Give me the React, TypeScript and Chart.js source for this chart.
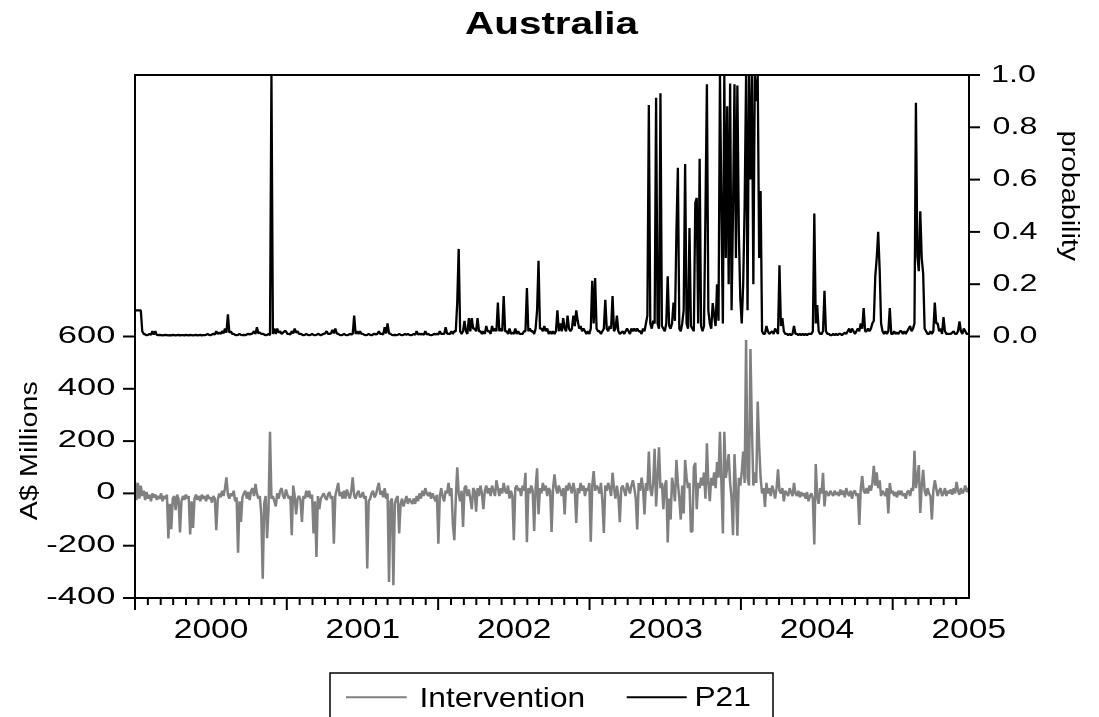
import React, { useEffect, useRef } from "react";
import { Chart, registerables } from "chart.js";
Chart.register(...registerables);

const TITLE = "Australia";
const LEFT_TITLE = "A$ Millions";
const RIGHT_TITLE = "probability";
const SERIES_NAMES = ["Intervention", "P21"];
const START_DATE = [1999, 6, 1]; // 1 Jul 1999
const END_DATE = [2005, 0, 1]; // 1 Jan 2005
const STEP_DAYS = 3.5; // twice-weekly readings

// Intervention, A$ millions (twice-weekly readings)
const INTERVENTION = [
  44, -26, 40, -20, 30, -10, 10, -25, 5, -20, -5, -30, 0, -15, -5, -25, -10, -20, 0, -30, -10, -20, -5, -172,
  -40, -137, -20, -10, -64, -5, -20, -149, -30, -10, -25, -5, -20, -10, -157, -30, -132, -20, -5, -25, -10, -30, -5, -20,
  -10, -30, -5, -20, -15, -35, -10, -20, -141, -25, 0, -15, 10, -10, 20, 61, -5, -20, 0, -10, 10, -30, -15, -227,
  -30, -109, -15, 0, 10, -20, 5, -25, 10, 20, -10, 36, 0, -20, -10, -80, -326, -40, -10, -171, -60, 236, -20, -10,
  -30, -50, 0, -20, 10, 20, -10, -20, 15, -5, -20, -10, -160, 30, -10, -80, -20, -10, -25, -109, -10, -20, 10, -15,
  10, -20, -5, -153, -30, -243, -10, -60, -20, -10, 0, -15, -25, -5, 5, -20, -10, -192, -10, 15, 40, -10, 5, -20,
  10, -20, 15, -5, -20, 10, 61, -10, -20, 0, 10, -15, -10, 5, -20, -10, -287, -30, -20, 0, 10, -15, -5, 20,
  40, -5, 10, -15, 20, -20, 0, -339, -30, -20, -351, -40, -20, -10, -153, -40, -20, -50, -30, -10, -40, -20, -30, -40,
  -20, -40, -10, -30, 0, -20, 10, -10, 20, 0, -10, 5, -20, 0, -15, -30, -5, -192, -10, 20, -15, -30, 10, 0,
  40, -10, 20, -120, -179, -20, 100, 0, -30, 10, -128, 20, 30, -10, 15, -20, -60, 20, 10, -70, 20, -10, 30, 0,
  -60, 10, 30, 0, 20, -10, 30, 10, -10, 50, 20, -10, 20, 0, 40, 10, 0, 30, -20, 10, -10, -179, 20, 30,
  10, 20, -10, 30, 10, 79, -187, 20, 0, 30, 10, -144, 20, 96, -80, 20, 0, 40, 10, 30, -10, 20, 10, -147,
  20, 73, 20, 0, 30, 10, -10, 20, -80, 30, 10, 40, 20, 0, 40, 10, -113, 20, 0, 40, 10, 30, -10, 20,
  10, 40, -185, 30, 85, 10, 30, 20, 0, 40, -30, -151, 30, 10, 40, 20, -10, 79, 20, -20, 30, -10, -110, 20,
  30, 10, -10, 40, 20, 0, 30, 50, 20, -20, -138, 40, 10, 60, 20, -80, 40, 10, 160, 20, -10, 40, 171, -50,
  60, 176, 20, 40, -60, 30, 50, -188, -20, -100, 60, 20, -30, 128, 40, -20, -100, 30, -77, 128, 60, 20, 40, -147,
  -144, 100, 117, -60, 40, 20, 60, 30, 80, -20, 192, 40, -30, 60, 30, 80, 20, 120, 60, 236, 40, -153, 236, 60,
  100, 150, 40, -20, -160, 150, 20, -162, 60, 30, 80, 160, 40, 587, 60, 30, 552, 255, 30, 80, 40, 351, 183, 60,
  0, 20, -52, 40, 0, 20, -10, 30, 10, -20, 20, 92, 10, 0, 20, -30, 10, 0, -10, 20, 5, -10, 40, 0,
  -10, 10, -15, 5, -10, 0, -20, 5, -30, -10, 0, -20, -195, 112, -10, -40, 20, 0, 79, -50, 10, 0, -10, 10,
  0, -10, 10, -5, 5, -10, 15, -5, 10, -15, 20, 0, -10, 10, -20, 5, 10, -10, 0, -121, 20, 66, 10, 0,
  20, 0, 30, 10, 40, 105, 30, 80, 20, 50, -10, 10, 0, -10, 20, -77, 40, 0, 10, -10, 5, -15, 10, -5,
  10, -10, 0, -20, 5, 10, -10, 20, 10, 163, 20, 60, 108, -75, 30, 90, 10, -10, 20, 0, -10, -100, 10, 50,
  20, -10, 10, 20, -10, 0, 20, -10, 10, 0, 15, -5, 20, 0, 44, 10, -5, 20, 0, 10, 30, 5, 20, 10,
];

// P21, probability (twice-weekly readings)
const P21 = [
  0.1, 0.1, 0.1, 0.1, 0.1, 0.02, 0.01, 0.008, 0.005, 0.006, 0.01, 0.006, 0.02, 0.008, 0.02, 0.006, 0.005, 0.006, 0.005, 0.004, 0.005, 0.006, 0.005, 0.004,
  0.005, 0.004, 0.006, 0.005, 0.004, 0.005, 0.006, 0.004, 0.005, 0.005, 0.004, 0.006, 0.005, 0.004, 0.006, 0.005, 0.004, 0.005, 0.006, 0.004, 0.005, 0.006, 0.004, 0.005,
  0.005, 0.006, 0.01, 0.006, 0.005, 0.008, 0.01, 0.008, 0.02, 0.01, 0.015, 0.01, 0.02, 0.012, 0.03, 0.015, 0.085, 0.015, 0.02, 0.01, 0.01, 0.006, 0.005, 0.006,
  0.01, 0.006, 0.005, 0.006, 0.005, 0.008, 0.01, 0.008, 0.01, 0.012, 0.02, 0.01, 0.035, 0.012, 0.015, 0.01, 0.01, 0.008, 0.005, 0.006, 0.01, 0.005, 1.0, 0.01,
  0.03, 0.01, 0.03, 0.015, 0.02, 0.01, 0.015, 0.02, 0.02, 0.01, 0.01, 0.008, 0.02, 0.012, 0.03, 0.015, 0.02, 0.01, 0.01, 0.008, 0.005, 0.006, 0.01, 0.006,
  0.005, 0.006, 0.01, 0.006, 0.005, 0.006, 0.01, 0.008, 0.005, 0.008, 0.01, 0.012, 0.02, 0.01, 0.01, 0.012, 0.025, 0.012, 0.03, 0.012, 0.01, 0.006, 0.005, 0.006,
  0.01, 0.006, 0.005, 0.006, 0.01, 0.008, 0.01, 0.08, 0.01, 0.02, 0.01, 0.02, 0.01, 0.01, 0.006, 0.005, 0.006, 0.01, 0.006, 0.005, 0.008, 0.01, 0.008, 0.01,
  0.02, 0.01, 0.01, 0.008, 0.035, 0.012, 0.05, 0.012, 0.01, 0.006, 0.005, 0.006, 0.005, 0.006, 0.01, 0.006, 0.005, 0.006, 0.01, 0.006, 0.01, 0.006, 0.005, 0.006,
  0.01, 0.006, 0.02, 0.008, 0.01, 0.008, 0.01, 0.006, 0.02, 0.008, 0.01, 0.006, 0.005, 0.006, 0.01, 0.008, 0.01, 0.008, 0.02, 0.01, 0.01, 0.01, 0.035, 0.012,
  0.01, 0.01, 0.02, 0.01, 0.02, 0.02, 0.13, 0.335, 0.02, 0.01, 0.02, 0.06, 0.02, 0.01, 0.07, 0.02, 0.07, 0.03, 0.03, 0.02, 0.07, 0.02, 0.02, 0.01,
  0.02, 0.01, 0.04, 0.02, 0.02, 0.01, 0.04, 0.02, 0.03, 0.02, 0.13, 0.02, 0.03, 0.02, 0.155, 0.02, 0.02, 0.01, 0.03, 0.01, 0.015, 0.01, 0.03, 0.01,
  0.02, 0.01, 0.01, 0.01, 0.02, 0.02, 0.185, 0.02, 0.03, 0.02, 0.02, 0.01, 0.03, 0.1, 0.29, 0.03, 0.03, 0.02, 0.04, 0.02, 0.03, 0.01, 0.02, 0.01,
  0.02, 0.01, 0.02, 0.1, 0.02, 0.05, 0.02, 0.07, 0.03, 0.02, 0.08, 0.03, 0.02, 0.03, 0.08, 0.04, 0.1, 0.06, 0.03, 0.04, 0.02, 0.03, 0.02, 0.01,
  0.02, 0.01, 0.03, 0.213, 0.05, 0.224, 0.03, 0.02, 0.02, 0.01, 0.02, 0.03, 0.14, 0.03, 0.02, 0.04, 0.03, 0.155, 0.02, 0.03, 0.08, 0.02, 0.01, 0.015,
  0.02, 0.01, 0.02, 0.03, 0.02, 0.01, 0.03, 0.02, 0.03, 0.02, 0.03, 0.02, 0.02, 0.01, 0.03, 0.02, 0.05, 0.08, 0.885, 0.05, 0.03, 0.06, 0.05, 0.913,
  0.05, 0.03, 0.93, 0.04, 0.03, 0.02, 0.05, 0.23, 0.04, 0.03, 0.05, 0.13, 0.06, 0.4, 0.645, 0.03, 0.02, 0.05, 0.1, 0.66, 0.05, 0.03, 0.415, 0.04,
  0.03, 0.02, 0.51, 0.53, 0.05, 0.68, 0.04, 0.02, 0.04, 0.47, 0.965, 0.1, 0.05, 0.03, 0.128, 0.08, 0.04, 0.2, 0.06, 1.0, 0.5, 0.05, 1.0, 0.3,
  0.88, 0.2, 0.967, 0.1, 0.48, 0.965, 0.3, 0.96, 0.4, 0.147, 0.05, 0.2, 0.5, 1.0, 0.1, 1.0, 0.6, 1.0, 0.2, 1.0, 0.9, 1.0, 0.3, 0.556,
  0.02, 0.01, 0.01, 0.04, 0.02, 0.01, 0.015, 0.02, 0.01, 0.03, 0.02, 0.01, 0.272, 0.04, 0.07, 0.02, 0.01, 0.01, 0.005, 0.01, 0.005, 0.01, 0.04, 0.01,
  0.01, 0.005, 0.01, 0.005, 0.01, 0.005, 0.01, 0.005, 0.01, 0.01, 0.01, 0.02, 0.47, 0.05, 0.12, 0.02, 0.01, 0.01, 0.02, 0.175, 0.02, 0.01, 0.01, 0.005,
  0.005, 0.01, 0.005, 0.01, 0.005, 0.01, 0.01, 0.005, 0.01, 0.015, 0.01, 0.02, 0.03, 0.015, 0.03, 0.02, 0.01, 0.02, 0.03, 0.02, 0.05, 0.03, 0.109, 0.02,
  0.02, 0.03, 0.02, 0.03, 0.05, 0.06, 0.23, 0.3, 0.4, 0.26, 0.05, 0.02, 0.01, 0.02, 0.01, 0.02, 0.109, 0.01, 0.01, 0.02, 0.01, 0.015, 0.01, 0.02,
  0.02, 0.01, 0.02, 0.01, 0.02, 0.03, 0.04, 0.02, 0.03, 0.05, 0.894, 0.306, 0.25, 0.479, 0.3, 0.24, 0.03, 0.02, 0.01, 0.01, 0.02, 0.01, 0.02, 0.13,
  0.05, 0.05, 0.02, 0.03, 0.01, 0.074, 0.02, 0.01, 0.01, 0.01, 0.01, 0.015, 0.02, 0.01, 0.01, 0.02, 0.058, 0.02, 0.01, 0.03, 0.02, 0.01, 0.01, 0.01,
];

const LEFT_TICKS = [600, 400, 200, 0, -200, -400];
const RIGHT_TICKS = [0, 0.2, 0.4, 0.6, 0.8, 1.0];
const YEAR_LABELS = [2000, 2001, 2002, 2003, 2004, 2005];
const LEFT_RANGE = [-400, 1600];
const RIGHT_RANGE = [-1, 1];

const FONT = "'Liberation Sans', Arial, Helvetica, sans-serif";
const GRAY = "#808080";

const DAY_MS = 86400000;
const startMs = Date.UTC(START_DATE[0], START_DATE[1], START_DATE[2]);
const dayOf = (y: number, m: number, d: number) => (Date.UTC(y, m, d) - startMs) / DAY_MS;
const END_DAY = dayOf(END_DATE[0], END_DATE[1], END_DATE[2]);

function inkWidth(ctx: CanvasRenderingContext2D, text: string, font: string) {
  ctx.save();
  ctx.font = font;
  const m = ctx.measureText(text);
  ctx.restore();
  return m.actualBoundingBoxRight + m.actualBoundingBoxLeft;
}

function drawInk(
  ctx: CanvasRenderingContext2D,
  text: string,
  font: string,
  x: number,
  y: number,
  sx: number,
  align: "left" | "center" | "right" = "center",
  rot = 0
) {
  ctx.save();
  ctx.font = font;
  ctx.textAlign = "left";
  ctx.textBaseline = "alphabetic";
  ctx.fillStyle = "#000";
  const m = ctx.measureText(text);
  const l = -m.actualBoundingBoxLeft;
  const r = m.actualBoundingBoxRight;
  const t = -m.actualBoundingBoxAscent;
  const b = m.actualBoundingBoxDescent;
  const ax = align === "left" ? l : align === "right" ? r : (l + r) / 2;
  ctx.translate(x, y);
  ctx.rotate(rot);
  ctx.scale(sx, 1);
  ctx.fillText(text, -ax, -(t + b) / 2);
  ctx.restore();
}

const decorPlugin = {
  id: "decor",
  afterDraw(chart: any) {
    const ctx: CanvasRenderingContext2D = chart.ctx;
    const { left, right, top, bottom } = chart.chartArea;
    const xs = chart.scales.x;
    const yl = chart.scales.y;
    const yr = chart.scales.y2;

    ctx.save();
    ctx.strokeStyle = "#000";
    ctx.lineWidth = 2;
    ctx.strokeRect(left, top, right - left, bottom - top);

    const fL = `24px ${FONT}`;
    const sxL = 55.7 / inkWidth(ctx, "600", fL);
    LEFT_TICKS.forEach((v) => {
      const y = yl.getPixelForValue(v);
      ctx.beginPath();
      ctx.moveTo(left - 12, y);
      ctx.lineTo(left, y);
      ctx.stroke();
      drawInk(ctx, String(v), fL, 115, y - 2.5, sxL, "right");
    });

    const fR = `23px ${FONT}`;
    const sxR = 43.7 / inkWidth(ctx, "0.0", fR);
    RIGHT_TICKS.forEach((v) => {
      const y = yr.getPixelForValue(v);
      ctx.beginPath();
      ctx.moveTo(right, y);
      ctx.lineTo(right + 11, y);
      ctx.stroke();
      drawInk(ctx, v.toFixed(1), fR, 992.5, y - 1.8, sxR, "left");
    });

    for (let k = 0; ; k++) {
      const yy = START_DATE[0] + Math.floor((START_DATE[1] + k) / 12);
      const mm = (START_DATE[1] + k) % 12;
      const d = dayOf(yy, mm, 1);
      if (d >= END_DAY) break;
      const x = xs.getPixelForValue(d);
      ctx.beginPath();
      ctx.moveTo(x, bottom);
      ctx.lineTo(x, bottom + (mm === 6 ? 12 : 7));
      ctx.stroke();
    }

    const fX = `28px ${FONT}`;
    const sxX = 72.7 / inkWidth(ctx, "2000", fX);
    YEAR_LABELS.forEach((yr0) => {
      const x = xs.getPixelForValue(dayOf(yr0, 0, 1));
      drawInk(ctx, String(yr0), fX, x, 628.3, sxX, "center");
    });

    const fT = `bold 31px ${FONT}`;
    drawInk(ctx, TITLE, fT, 552, 22.8, 174 / inkWidth(ctx, TITLE, fT), "center");
    const fA = `23px ${FONT}`;
    drawInk(ctx, LEFT_TITLE, fA, 29, 451, 138.3 / inkWidth(ctx, LEFT_TITLE, fA), "center", -Math.PI / 2);
    drawInk(ctx, RIGHT_TITLE, fA, 1068.3, 196.7, 130 / inkWidth(ctx, RIGHT_TITLE, fA), "center", Math.PI / 2);

    ctx.lineWidth = 1.5;
    ctx.strokeStyle = "#000";
    ctx.strokeRect(330, 673, 443, 80);
    ctx.lineWidth = 2;
    ctx.strokeStyle = GRAY;
    ctx.beginPath();
    ctx.moveTo(346, 697.3);
    ctx.lineTo(406.7, 697.3);
    ctx.stroke();
    ctx.strokeStyle = "#000";
    ctx.beginPath();
    ctx.moveTo(626.7, 697.3);
    ctx.lineTo(686.7, 697.3);
    ctx.stroke();
    const fLg = `28px ${FONT}`;
    const sxLg = 161.7 / inkWidth(ctx, SERIES_NAMES[0], fLg);
    drawInk(ctx, SERIES_NAMES[0], fLg, 421.7, 696.7, sxLg, "left");
    drawInk(ctx, SERIES_NAMES[1], fLg, 696.7, 696.7, sxLg, "left");
    ctx.restore();
  },
};

export default function App() {
  const ref = useRef<HTMLCanvasElement | null>(null);
  useEffect(() => {
    if (!ref.current) return;
    const toPts = (arr: number[]) => arr.map((v, i) => ({ x: i * STEP_DAYS, y: v }));
    const chart = new Chart(ref.current, {
      type: "line",
      data: {
        datasets: [
          {
            label: SERIES_NAMES[0],
            data: toPts(INTERVENTION),
            borderColor: GRAY,
            backgroundColor: GRAY,
            borderWidth: 2.5,
            pointRadius: 0,
            tension: 0,
            borderJoinStyle: "bevel",
            yAxisID: "y",
            order: 1,
          },
          {
            label: SERIES_NAMES[1],
            data: toPts(P21),
            borderColor: "#000",
            backgroundColor: "#000",
            borderWidth: 2.3,
            pointRadius: 0,
            tension: 0,
            borderJoinStyle: "bevel",
            yAxisID: "y2",
            order: 0,
          },
        ],
      } as any,
      options: {
        responsive: false,
        animation: false,
        events: [],
        layout: { padding: { left: 135, right: 130, top: 75, bottom: 119 } },
        plugins: { legend: { display: false }, title: { display: false }, tooltip: { enabled: false } },
        scales: {
          x: { type: "linear", min: 0, max: END_DAY, display: false },
          y: { type: "linear", min: LEFT_RANGE[0], max: LEFT_RANGE[1], display: false },
          y2: { type: "linear", min: RIGHT_RANGE[0], max: RIGHT_RANGE[1], display: false, position: "right" },
        },
      } as any,
      plugins: [decorPlugin],
    });
    return () => chart.destroy();
  }, []);
  return (
    <div style={{ position: "absolute", left: 0, top: 0, width: 1099, height: 717, background: "#fff" }}>
      <canvas ref={ref} width={1099} height={717} style={{ display: "block" }} />
    </div>
  );
}
